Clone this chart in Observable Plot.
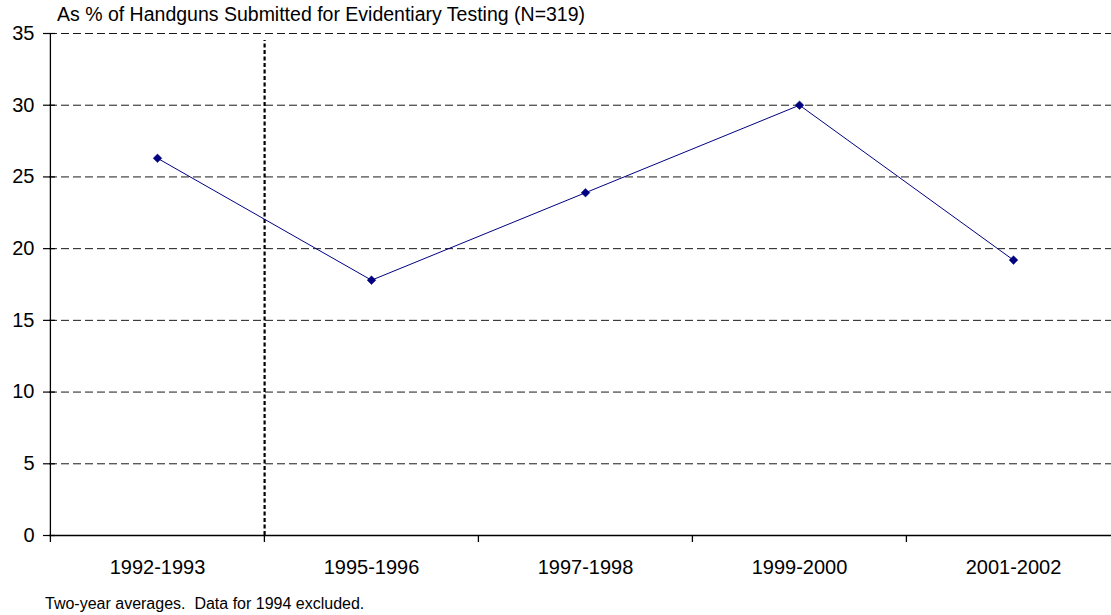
<!DOCTYPE html>
<html>
<head>
<meta charset="utf-8">
<script src="https://cdn.jsdelivr.net/npm/d3@7"></script>
<script src="https://cdn.jsdelivr.net/npm/@observablehq/plot@0.6"></script>
<style>
  body { margin: 0; background: #fff; font-family: "Liberation Sans", Arial, sans-serif; }
  #wrap { position: relative; width: 1111px; height: 615px; overflow: hidden; }
  #title { position: absolute; left: 57px; top: 5px; font-size: 19.5px; line-height: 18px; color: #000; white-space: nowrap; }
  #caption { position: absolute; left: 45px; top: 596px; font-size: 16px; line-height: 16px; color: #000; white-space: pre; }
  #chart { position: absolute; left: 0; top: 0; }
</style>
</head>
<body>
<div id="wrap">
  <div id="chart"></div>
  <div id="title">As % of Handguns Submitted for Evidentiary Testing (N=319)</div>
  <div id="caption">Two-year averages.  Data for 1994 excluded.</div>
</div>
<script>
const periods = ["1992-1993", "1995-1996", "1997-1998", "1999-2000", "2001-2002"];
const percents = [26.3, 17.8, 23.9, 30.0, 19.2];
const yTicks = [0, 5, 10, 15, 20, 25, 30, 35];
const gridValues = [5, 10, 15, 20, 25, 30, 35];
const dividerAfter = "1992-1993";

const data = periods.map((p, i) => ({period: p, value: percents[i]}));

const W = 1111;
const ML = 49;
const xScaleRange = [ML, 1120];
const bw = (xScaleRange[1] - xScaleRange[0]) / periods.length;

const chart = Plot.plot({
  width: W,
  height: 585,
  marginTop: 33,
  marginBottom: 50,
  marginLeft: ML,
  marginRight: 0,
  style: {fontFamily: "Liberation Sans, Arial, sans-serif", fontSize: "20px", color: "#000", background: "transparent", overflow: "visible"},
  x: {type: "band", domain: periods, range: xScaleRange, padding: 0},
  y: {domain: [0, 35]},
  marks: [
    // horizontal dashed gridlines
    Plot.ruleY(gridValues, {stroke: "#000", strokeWidth: 1, strokeOpacity: 0.9, strokeDasharray: "8,4"}),
    // y axis ticks and labels
    Plot.axisY({ticks: yTicks, tickSize: 6, tickPadding: 9, anchor: "left", label: null, fontSize: 20, stroke: "#000", strokeOpacity: 1, strokeWidth: 1.2}),
    // short tick stubs to the right of the axis
    Plot.ruleY(yTicks, {insetRight: W - ML - 6, stroke: "#000", strokeWidth: 1.2}),
    // x axis labels
    Plot.axisX({tickSize: 0, tickPadding: 24, fontSize: 20, anchor: "bottom", label: null}),
    // x axis tick marks at band boundaries
    Plot.ruleX(periods, {x: d => d, dx: -bw / 2, y1: 0, y2: 0, insetBottom: -7, stroke: "#000", strokeWidth: 1.3}),
    // vertical axis line
    Plot.ruleX([periods[0]], {x: d => d, dx: -bw / 2, y1: 0, y2: 35, stroke: "#000", strokeWidth: 1.3}),
    // bottom axis line
    Plot.ruleY([0], {stroke: "#000", strokeWidth: 1.3}),
    // divider dashed line between 1992-1993 and 1995-1996
    Plot.ruleX([dividerAfter], {x: d => d, dx: bw / 2, y1: 0, y2: 35, insetBottom: -7, stroke: "#000", strokeWidth: 2.2, strokeDasharray: "4,2.5"}),
    // data line
    Plot.line(data, {x: "period", y: "value", stroke: "#000080", strokeWidth: 1}),
    Plot.dot(data, {x: "period", y: "value", symbol: "diamond2", r: 3.9, fill: "#000080", stroke: "#000080", strokeWidth: 0.5})
  ]
});
document.getElementById("chart").appendChild(chart);
</script>
</body>
</html>
